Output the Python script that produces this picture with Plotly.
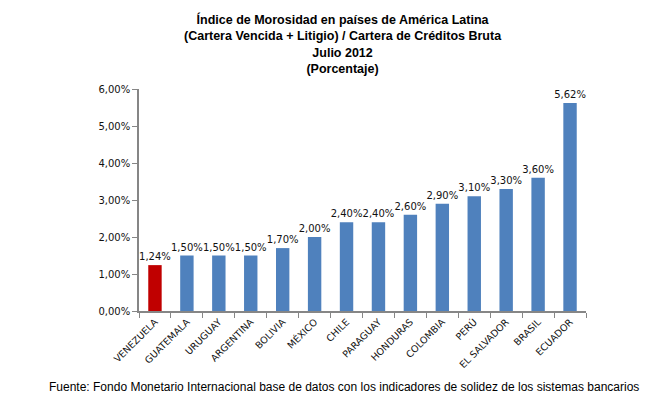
import plotly.graph_objects as go

##----------------------------------------------------------------------------##
#Data
paises = ['VENEZUELA', 'GUATEMALA', 'URUGUAY', 'ARGENTINA', 'BOLIVIA', 'MÉXICO',
          'CHILE', 'PARAGUAY', 'HONDURAS', 'COLOMBIA', 'PERÚ', 'EL SALVADOR',
          'BRASIL', 'ECUADOR']
morosidad = [1.24, 1.50, 1.50, 1.50, 1.70, 2.00, 2.40, 2.40, 2.60, 2.90, 3.10, 3.30, 3.60, 5.62]
colores = ['#C00000'] + ['#4F81BD'] * (len(paises) - 1)
##----------------------------------------------------------------------------##

fig = go.Figure(go.Bar(
    x=paises, y=morosidad,
    marker=dict(color=colores, line=dict(width=0)),
    width=0.42,
    texttemplate='%{y:.2f}%', textposition='outside', cliponaxis=False,
    constraintext='none',
    textfont=dict(family='DejaVu Sans', size=10, color='#111111'),
))

fig.update_layout(
    width=662, height=415,
    margin=dict(l=131, r=84, t=81, b=112),
    plot_bgcolor='white', paper_bgcolor='white',
    separators=',.',
    showlegend=False,
    font=dict(family='DejaVu Sans', size=10, color='#111111'),
)

#Title as annotation so the four lines stay where they are placed
fig.add_annotation(
    text='Índice de Morosidad en países de América Latina<br>'
         '(Cartera Vencida + Litigio) / Cartera de Créditos Bruta<br>'
         'Julio 2012<br>(Porcentaje)',
    xref='paper', yref='paper', x=0.457, y=1.356, xanchor='center', yanchor='top',
    showarrow=False,
    font=dict(family='Liberation Sans', size=12.5, color='black', weight='bold'),
)

fig.update_yaxes(
    range=[0, 6], dtick=1, tickformat='.2f', ticksuffix='%',
    showgrid=False, zeroline=False,
    showline=True, linecolor='#868686', linewidth=1.5,
    ticks='outside', ticklen=5, tickcolor='#868686',
    tickfont=dict(size=10),
)
fig.update_xaxes(
    tickangle=-45, showgrid=False,
    showline=True, linecolor='#868686', linewidth=1.5,
    ticks='outside', ticklen=5, tickcolor='#868686', tickson='boundaries',
    tickfont=dict(size=9.5),
)

fig.add_annotation(
    text='Fuente: Fondo Monetario Internacional base de datos con los indicadores de solidez de los sistemas bancarios',
    xref='paper', yref='paper', x=0.459, y=-0.342, xanchor='center', yanchor='middle',
    showarrow=False, font=dict(family='Liberation Sans', size=12, color='black'),
)

fig.write_html("out.html")
